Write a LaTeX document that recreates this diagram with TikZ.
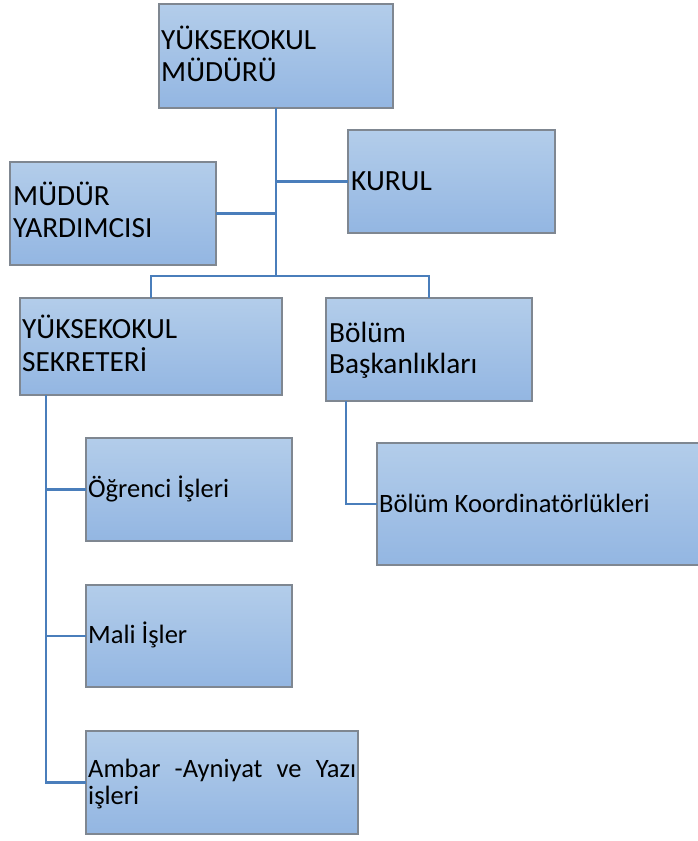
\documentclass[tikz,border=0pt]{standalone}
\usepackage{fontspec}
\setmainfont{Carlito}
\usetikzlibrary{calc}
\definecolor{topc}{HTML}{B3CDEA}
\definecolor{botc}{HTML}{93B6E2}
\definecolor{bordc}{HTML}{7F8791}
\definecolor{linec}{HTML}{4A7EBB}
\newcommand\bigtxt{\fontsize{29.3}{32}\selectfont}
\newcommand\smltxt{\fontsize{26.5}{28}\selectfont}
\begin{document}
\begin{tikzpicture}[x=1pt,y=-1pt,
  orgbox/.style={draw=bordc, line width=1.4pt, top color=topc, bottom color=botc,
    inner sep=0pt, outer sep=0pt, anchor=north west},
  bigl/.style={anchor=base west, inner sep=0pt, font=\bigtxt},
  smll/.style={anchor=base west, inner sep=0pt, font=\smltxt},
  conn/.style={draw=linec, line width=2.5pt}]
\path[use as bounding box] (0,0) rectangle (697,841);
% connectors (drawn first, under boxes)
\node[orgbox, minimum width=234pt, minimum height=104pt] (mudur) at (159,4) {};
\node[orgbox, minimum width=207pt, minimum height=103pt] (kurul) at (348,130) {};
\node[orgbox, minimum width=206pt, minimum height=103pt] (yard) at (10,162) {};
\node[orgbox, minimum width=262pt, minimum height=97pt] (sek) at (20,298) {};
\node[orgbox, minimum width=206pt, minimum height=103pt] (bas) at (326,298) {};
\node[orgbox, minimum width=206pt, minimum height=103pt] (ogr) at (86,438) {};
\node[orgbox, minimum width=206pt, minimum height=102pt] (mali) at (86,585) {};
\node[orgbox, minimum width=272pt, minimum height=103pt] (ambar) at (86,731) {};
\node[orgbox, minimum width=324pt, minimum height=122pt] (koord) at (377,443) {};
% connectors
\coordinate (bus) at (mudur.south |- 0,276);
\coordinate (sekv) at ($(sek.south west)+(26,0)$);
\coordinate (basv) at ($(bas.south west)+(20,0)$);
\draw[conn] (mudur.south) -- (bus);
\draw[conn] (kurul.west) -- (kurul.west -| mudur.south);
\draw[conn] (yard.east) -- (yard.east -| mudur.south);
\draw[conn] (sek.north) |- (bus) -| (bas.north);
\draw[conn] (sekv) |- (ambar.west);
\draw[conn] (ogr.west) -- (ogr.west -| sekv);
\draw[conn] (mali.west) -- (mali.west -| sekv);
\draw[conn] (basv) |- (koord.west);
% texts
\node[bigl] (t1a) at (161,49) {YÜKSEKOKUL};
\node[bigl] (t1b) at (161,81) {MÜDÜRÜ};
\node[bigl] (t2) at (351,190) {KURUL};
\node[bigl] (t3a) at (13,205) {MÜDÜR};
\node[bigl] (t3b) at (13,237) {YARDIMCISI};
\node[bigl] (t4a) at (22,338) {YÜKSEKOKUL};
\node[bigl] (t4b) at (22,371) {SEKRETERİ};
\node[bigl] (t5a) at (329,342) {Bölüm};
\node[bigl] (t5b) at (329,373) {Başkanlıkları};
\node[smll] (t6) at (88,497) {Öğrenci İşleri};
\node[smll] (t7) at (88,643) {Mali İşler};
\node[smll] (t8a) at (88,777) {\makebox[268pt][l]{Ambar\hfill-Ayniyat\hfill ve\hfill Yazı}};
\node[smll] (t8b) at (88,804) {işleri};
\node[smll] (t9) at (379,512) {Bölüm Koordinatörlükleri};
\end{tikzpicture}
\end{document}
